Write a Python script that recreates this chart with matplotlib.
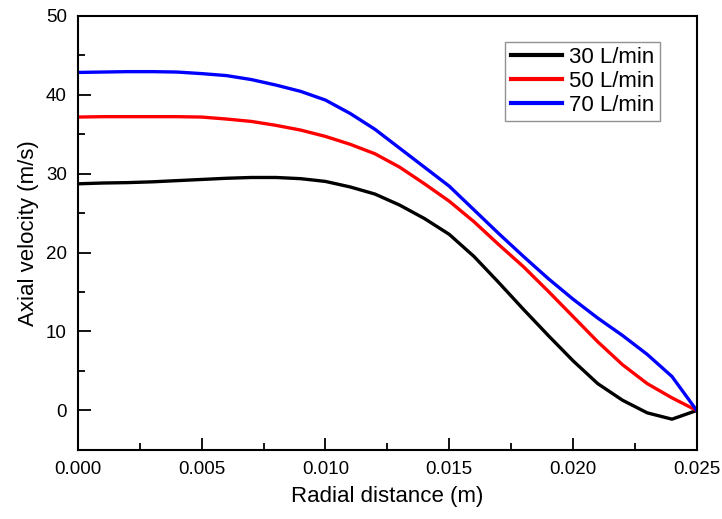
import matplotlib
matplotlib.use("Agg")
import matplotlib.pyplot as plt
from matplotlib.ticker import MultipleLocator, FormatStrFormatter

plt.rcParams['font.family'] = ['Liberation Sans', 'DejaVu Sans']

# radial positions (m)
r = [0.000, 0.001, 0.002, 0.003, 0.004, 0.005, 0.006, 0.007, 0.008, 0.009,
     0.010, 0.011, 0.012, 0.013, 0.014, 0.015, 0.016, 0.017, 0.018, 0.019,
     0.020, 0.021, 0.022, 0.023, 0.024, 0.025]

# axial velocity (m/s) for each flow rate
v_30 = [28.7, 28.8, 28.85, 28.95, 29.1, 29.25, 29.4, 29.5, 29.5, 29.35,
        29.0, 28.3, 27.4, 26.0, 24.3, 22.3, 19.5, 16.2, 12.8, 9.5,
        6.3, 3.4, 1.3, -0.3, -1.1, 0.0]
v_50 = [37.15, 37.2, 37.2, 37.2, 37.2, 37.15, 36.9, 36.6, 36.1, 35.5,
        34.7, 33.7, 32.5, 30.8, 28.7, 26.5, 23.9, 21.0, 18.2, 15.1,
        11.9, 8.7, 5.8, 3.4, 1.6, 0.0]
v_70 = [42.8, 42.85, 42.9, 42.9, 42.85, 42.65, 42.4, 41.9, 41.2, 40.4,
        39.3, 37.6, 35.6, 33.2, 30.8, 28.4, 25.4, 22.4, 19.5, 16.7,
        14.1, 11.7, 9.5, 7.1, 4.3, 0.0]

labels = ['30 L/min', '50 L/min', '70 L/min']
colors = ['black', 'red', 'blue']

fig = plt.figure(figsize=(7.22, 5.19), dpi=100)
ax = fig.add_axes([0.108, 0.133, 0.857, 0.837])

for v, lab, c in zip([v_30, v_50, v_70], labels, colors):
    ax.plot(r, v, color=c, lw=2.4, label=lab)

ax.set_xlim(0, 0.025)
ax.set_ylim(-5, 50)
ax.xaxis.set_major_locator(MultipleLocator(0.005))
ax.xaxis.set_minor_locator(MultipleLocator(0.0025))
ax.yaxis.set_major_locator(MultipleLocator(10))
ax.yaxis.set_minor_locator(MultipleLocator(5))
ax.xaxis.set_major_formatter(FormatStrFormatter('%.3f'))

ax.tick_params(which='both', direction='in', top=False, right=False,
               labelsize=13.5, width=1.3, pad=8)
ax.tick_params(which='major', length=9)
ax.tick_params(which='minor', length=5)
for s in ax.spines.values():
    s.set_linewidth(1.5)

ax.set_xlabel('Radial distance (m)', fontsize=16, labelpad=6)
ax.set_ylabel('Axial velocity (m/s)', fontsize=16, labelpad=5)

leg = ax.legend(loc='upper right', bbox_to_anchor=(0.94, 0.94), fontsize=16,
                frameon=True, fancybox=False, handlelength=2.3,
                borderpad=0.25, labelspacing=0.12, handletextpad=0.3,
                borderaxespad=0)
leg.get_frame().set_edgecolor('#777777')
leg.get_frame().set_linewidth(1.0)
for h in leg.get_lines():
    h.set_linewidth(3)

fig.savefig('out.png', dpi=100)
